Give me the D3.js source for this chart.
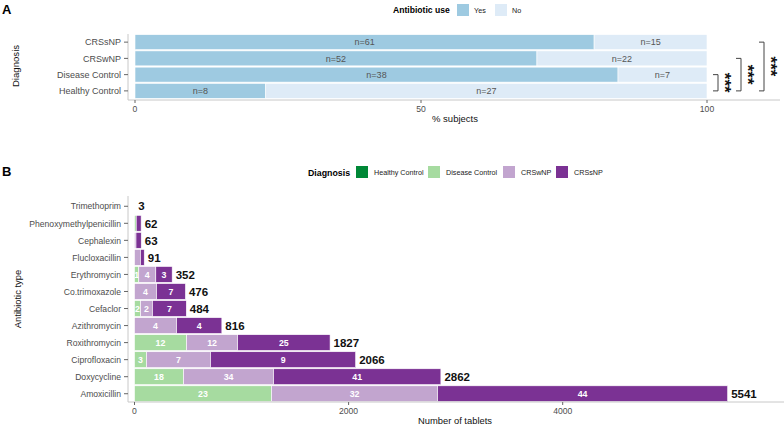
<!DOCTYPE html>
<html><head><meta charset="utf-8">
<script src="https://cdn.jsdelivr.net/npm/d3@7"></script>
<style>
body{margin:0;background:#fff;}
text{font-family:"Liberation Sans",Arial,sans-serif;}
</style></head>
<body><svg id="c" width="784" height="428"></svg>
<script>
// ---- Panel A data ----
const diagnoses = ["CRSsNP","CRSwNP","Disease Control","Healthy Control"];
const useYes = [61,52,38,8];
const useNo = [15,22,7,27];
const useKeys = ["Yes","No"];
const useColors = ["#9ecae1","#deebf7"];
const sigPairs = [["Disease Control","Healthy Control"],["CRSwNP","Healthy Control"],["CRSsNP","Healthy Control"]];
const sigLabels = ["***","***","***"];
const aTicks = [0,50,100];

// ---- Panel B data ----
const antibiotics = ["Trimethoprim","Phenoxymethylpenicillin","Cephalexin","Flucloxacillin","Erythromycin","Co.trimoxazole","Cefaclor","Azithromycin","Roxithromycin","Ciprofloxacin","Doxycycline","Amoxicillin"];
const groups = ["Healthy Control","Disease Control","CRSwNP","CRSsNP"];
const groupColors = ["#008837","#a6dba0","#c2a5cf","#7b3294"];
const tabHC  = [0,0,0,0,0,0,0,0,0,0,0,0];
const tabDC  = [0,16,0,0,40,0,56,0,486,112,458,1280];
const tabWNP = [3,0,14,55,159,206,112,393,477,598,841,1551];
const tabSNP = [0,46,49,36,153,270,316,423,864,1356,1563,2710];
const nHC  = [null,null,null,null,null,null,null,null,null,null,null,null];
const nDC  = [null,null,null,null,1,null,2,null,12,3,18,23];
const nWNP = [null,null,null,null,4,4,2,4,12,7,34,32];
const nSNP = [null,null,null,null,3,7,7,4,25,9,41,44];
const bTicks = [0,2000,4000];

const svg = d3.select("#c");
const axisGrey = "#c8c8c8", tickTxt = "#4d4d4d";

// ===== Panel A =====
svg.append("text").attr("x",2).attr("y",14).attr("font-size",13).attr("font-weight","bold").text("A");
const xA = d3.scaleLinear().domain([0,100]).range([135,707]);
const yA = d3.scaleBand().domain(diagnoses).range([34,99]).paddingInner(0.08).paddingOuter(0.04);
const rowsA = diagnoses.map((d,i)=>{const t=useYes[i]+useNo[i];return {d, vals:[useYes[i],useNo[i]], tot:t};});
rowsA.forEach(r=>{
  let cum=0;
  r.vals.forEach((v,k)=>{
    const x0=xA(cum/r.tot*100), x1=xA((cum+v)/r.tot*100);
    svg.append("rect").attr("x",x0).attr("y",yA(r.d)).attr("width",x1-x0).attr("height",yA.bandwidth())
      .attr("fill",useColors[k]).attr("stroke","#fff").attr("stroke-width",0.6);
    svg.append("text").attr("x",(x0+x1)/2).attr("y",yA(r.d)+yA.bandwidth()/2+3.2).attr("text-anchor","middle")
      .attr("font-size",9).attr("fill","#555").text("n="+v);
    cum+=v;
  });
});
// axes A
svg.append("line").attr("x1",128).attr("x2",128).attr("y1",34).attr("y2",100).attr("stroke",axisGrey);
svg.append("line").attr("x1",128).attr("x2",780).attr("y1",100).attr("y2",100).attr("stroke",axisGrey);
diagnoses.forEach(d=>{
  const y=yA(d)+yA.bandwidth()/2;
  svg.append("line").attr("x1",124).attr("x2",128).attr("y1",y).attr("y2",y).attr("stroke","#666");
  svg.append("text").attr("x",121).attr("y",y+3.2).attr("text-anchor","end").attr("font-size",9).attr("fill",tickTxt).text(d);
});
aTicks.forEach(t=>{
  svg.append("line").attr("x1",xA(t)).attr("x2",xA(t)).attr("y1",100).attr("y2",103).attr("stroke","#666");
  svg.append("text").attr("x",xA(t)).attr("y",111.5).attr("text-anchor","middle").attr("font-size",8.6).attr("fill",tickTxt).text(t);
});
svg.append("text").attr("x",455).attr("y",122).attr("text-anchor","middle").attr("font-size",9.5).attr("fill","#111").text("% subjects");
svg.append("text").attr("transform","translate(19,66) rotate(-90)").attr("text-anchor","middle").attr("font-size",9.6).attr("fill","#111").text("Diagnosis");
// significance brackets
const brX=[718,741,764];
sigPairs.forEach((p,i)=>{
  const ya=yA(p[0])+yA.bandwidth()/2, yb=yA(p[1])+yA.bandwidth()/2, x=brX[i];
  svg.append("path").attr("d",`M${x-5},${ya}H${x}V${yb}H${x-5}`).attr("fill","none").attr("stroke","#444").attr("stroke-width",1);
  svg.append("text").attr("transform",`translate(${x+1},${(ya+yb)/2}) rotate(90)`).attr("text-anchor","middle")
    .attr("font-size",17).attr("font-weight","bold").attr("fill","#111").text(sigLabels[i]);
});
// legend A
svg.append("text").attr("x",393).attr("y",13).attr("font-size",8.6).attr("font-weight","bold").text("Antibiotic use");
const legAx=[457,495];
useKeys.forEach((k,i)=>{
  svg.append("rect").attr("x",legAx[i]).attr("y",4).attr("width",12).attr("height",12).attr("fill",useColors[i]);
  svg.append("text").attr("x",legAx[i]+17).attr("y",12.8).attr("font-size",7.2).attr("fill","#222").text(k);
});

// ===== Panel B =====
svg.append("text").attr("x",2).attr("y",176).attr("font-size",13).attr("font-weight","bold").text("B");
const xB = d3.scaleLinear().domain([0,4000]).range([134.5,562.7]);
const yB = d3.scaleBand().domain(antibiotics).range([198,402]).paddingInner(0.07).paddingOuter(0.02);
const tabs=[tabHC,tabDC,tabWNP,tabSNP], ns=[nHC,nDC,nWNP,nSNP];
antibiotics.forEach((a,i)=>{
  let cum=0;
  groups.forEach((g,k)=>{
    const v=tabs[k][i];
    if(v>0){
      const x0=xB(cum), x1=xB(cum+v);
      svg.append("rect").attr("x",x0).attr("y",yB(a)).attr("width",x1-x0).attr("height",yB.bandwidth())
        .attr("fill",groupColors[k]).attr("stroke","#fff").attr("stroke-width",0.6);
      if(ns[k][i]!=null){
        svg.append("text").attr("x",(x0+x1)/2).attr("y",yB(a)+yB.bandwidth()/2+3.2).attr("text-anchor","middle")
          .attr("font-size",8.8).attr("font-weight","bold").attr("fill","#fff").text(ns[k][i]);
      }
    }
    cum+=v;
  });
  svg.append("text").attr("x",xB(cum)+3.5).attr("y",yB(a)+yB.bandwidth()/2+4.2).attr("font-size",11.5).attr("font-weight","bold")
    .attr("fill","#111").text(cum);
});
svg.append("line").attr("x1",128).attr("x2",128).attr("y1",196).attr("y2",402).attr("stroke",axisGrey);
svg.append("line").attr("x1",128).attr("x2",784).attr("y1",402).attr("y2",402).attr("stroke",axisGrey);
antibiotics.forEach(a=>{
  const y=yB(a)+yB.bandwidth()/2;
  svg.append("line").attr("x1",124).attr("x2",128).attr("y1",y).attr("y2",y).attr("stroke","#666");
  svg.append("text").attr("x",121).attr("y",y+3.2).attr("text-anchor","end").attr("font-size",8.6).attr("fill",tickTxt).text(a);
});
bTicks.forEach(t=>{
  svg.append("line").attr("x1",xB(t)).attr("x2",xB(t)).attr("y1",402).attr("y2",405).attr("stroke","#666");
  svg.append("text").attr("x",xB(t)).attr("y",413.5).attr("text-anchor","middle").attr("font-size",8.6).attr("fill",tickTxt).text(t);
});
svg.append("text").attr("x",455).attr("y",424).attr("text-anchor","middle").attr("font-size",9.4).attr("fill","#111").text("Number of tablets");
svg.append("text").attr("transform","translate(21,299) rotate(-90)").attr("text-anchor","middle").attr("font-size",9.4).attr("fill","#111").text("Antibiotic type");
// legend B
svg.append("text").attr("x",308).attr("y",176).attr("font-size",8.8).attr("font-weight","bold").text("Diagnosis");
const legBx=[356,428,503,556];
groups.forEach((g,i)=>{
  svg.append("rect").attr("x",legBx[i]).attr("y",166).attr("width",12).attr("height",12).attr("fill",groupColors[i]);
  svg.append("text").attr("x",legBx[i]+18).attr("y",174.8).attr("font-size",7.2).attr("fill","#222").text(g);
});
</script></body></html>
